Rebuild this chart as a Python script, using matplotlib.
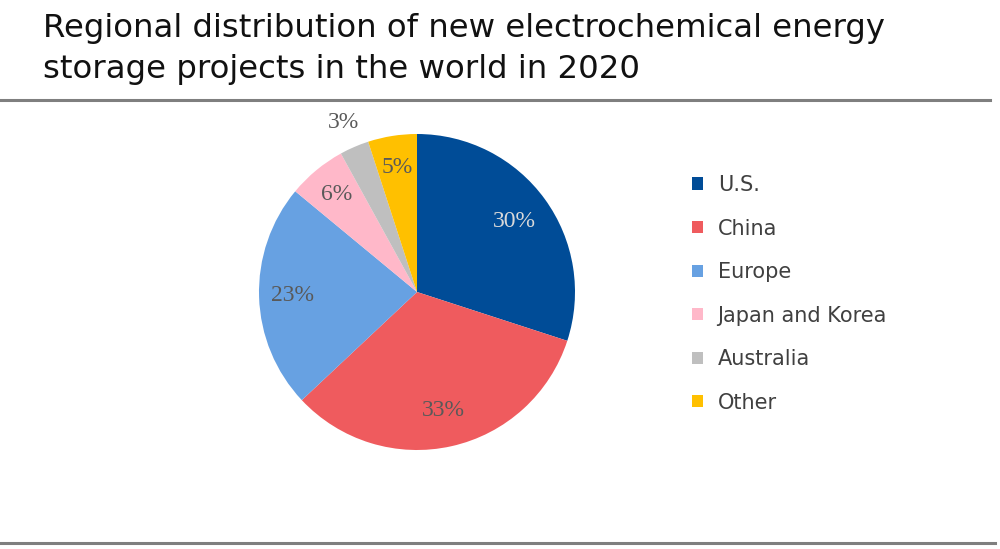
import matplotlib
matplotlib.use("Agg")
import matplotlib.pyplot as plt
from matplotlib.patches import Patch
import numpy as np

# data
regions = ["U.S.", "China", "Europe", "Japan and Korea", "Australia", "Other"]
shares = [30, 33, 23, 6, 3, 5]
colors = ["#004C97", "#EF5B5E", "#67A1E2", "#FFB8C9", "#BFBFBF", "#FFC000"]
label_colors = ["#D9D9D9", "#595959", "#595959", "#595959", "#595959", "#595959"]
title = "Regional distribution of new electrochemical energy\nstorage projects in the world in 2020"

W, H = 1000, 549
fig = plt.figure(figsize=(W / 100, H / 100), dpi=100)
fig.patch.set_facecolor("white")

# title
fig.text(43 / W, 1 - 13 / H, title, ha="left", va="top", fontsize=23.3,
         family="DejaVu Sans", color="#111111", linespacing=1.42)

# separator lines
fig.add_artist(plt.Line2D([0, 990 / W], [1 - 100 / H] * 2, color="#7F7F7F", lw=2.2))
fig.add_artist(plt.Line2D([0, 995 / W], [1 - 543 / H] * 2, color="#7F7F7F", lw=2.2))

# pie, centre (417, 292) radius 158 px
cx, cy, r = 417, 292, 158
ax = fig.add_axes([(cx - r) / W, (H - cy - r) / H, 2 * r / W, 2 * r / H])
wedges, _ = ax.pie(shares, colors=colors, startangle=90, counterclock=False,
                   radius=1, wedgeprops=dict(linewidth=0))
ax.set_xlim(-1, 1)
ax.set_ylim(-1, 1)
ax.set_aspect("equal")
ax.axis("off")

dists = [0.76, 0.77, 0.79, 0.80, 1.17, 0.80]
for w, v, d, c in zip(wedges, shares, dists, label_colors):
    ang = np.deg2rad((w.theta1 + w.theta2) / 2)
    ax.text(d * np.cos(ang), d * np.sin(ang), f"{v}%", ha="center", va="center",
            fontsize=17, family="Liberation Serif", color=c)

handles = [Patch(facecolor=c, edgecolor="none") for c in colors]
fig.legend(handles, regions, loc="upper left", bbox_to_anchor=(692 / W, 1 - 175 / H),
           frameon=False, fontsize=15, labelspacing=1.13, handlelength=0.53,
           handleheight=0.53, handletextpad=0.7, borderpad=0, borderaxespad=0,
           labelcolor="#404040")

fig.savefig("out.png", dpi=100)
